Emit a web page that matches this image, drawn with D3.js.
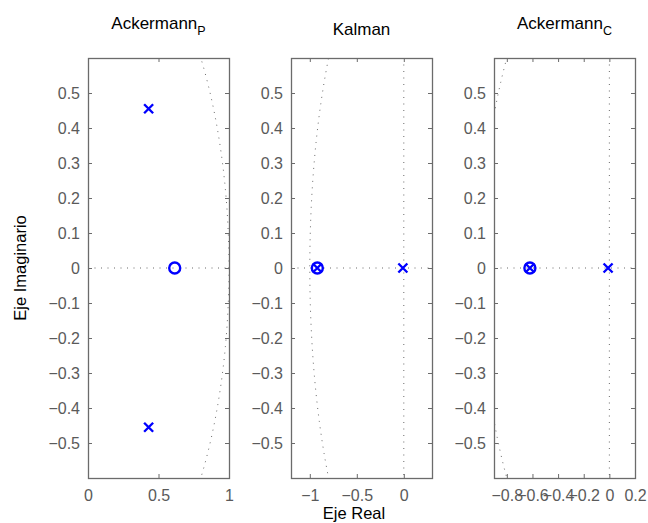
<!DOCTYPE html>
<html>
<head>
<meta charset="utf-8">
<script src="https://cdn.jsdelivr.net/npm/d3@7"></script>
<style>
  html, body { margin: 0; padding: 0; background: #fff; }
  svg { display: block; font-family: "Liberation Sans", Arial, Helvetica, sans-serif; }
</style>
</head>
<body>
<svg id="chart" width="648" height="523"></svg>
<script>
// Pole-zero maps of three discrete-time designs
const panelTitles = ["Ackermann", "Kalman", "Ackermann"];
const panelSubscripts = ["P", "", "C"];
const xDomains = [[0, 1], [-1.2, 0.3], [-0.9, 0.2]];
const xTickValues = [[0, 0.5, 1], [-1, -0.5, 0], [-0.8, -0.6, -0.4, -0.2, 0, 0.2]];
const yDomain = [-0.6, 0.6];
const yTickValues = [-0.5, -0.4, -0.3, -0.2, -0.1, 0, 0.1, 0.2, 0.3, 0.4, 0.5];

// poles (x) and zeros (o), as [real, imag]
const polesAckP = [[0.43, 0.455], [0.43, -0.455]];
const zerosAckP = [[0.615, 0]];
const polesKalman = [[-0.92, 0], [-0.01, 0]];
const zerosKalman = [[-0.92, 0]];
const polesAckC = [[-0.62, 0], [-0.01, 0]];
const zerosAckC = [[-0.62, 0]];

const poles = [polesAckP, polesKalman, polesAckC];
const zeros = [zerosAckP, zerosKalman, zerosAckC];

const panelLeft = [88, 291, 494];
const panelWidth = 141;
const plotTop = 58, plotBottom = 478;
const blue = "#0000ff";
const boxColor = "#6b6b6b";
const labelColor = "#5a5a5a";

const svg = d3.select("#chart");
const fmt = v => {
  if (v === 0) return "0";
  const s = String(Math.abs(+v.toFixed(2)));
  return (v < 0 ? "\u2212" : "") + s;
};

panelTitles.forEach((title, i) => {
  const x = d3.scaleLinear().domain(xDomains[i]).range([panelLeft[i], panelLeft[i] + panelWidth]);
  const y = d3.scaleLinear().domain(yDomain).range([plotBottom, plotTop]);
  const g = svg.append("g");

  const clipId = "clip" + i;
  g.append("clipPath").attr("id", clipId)
    .append("rect").attr("x", x.range()[0]).attr("y", plotTop)
    .attr("width", panelWidth).attr("height", plotBottom - plotTop);

  const grid = g.append("g").attr("clip-path", `url(#${clipId})`)
    .attr("fill", "none").attr("stroke", "#444").attr("stroke-width", 0.8)
    .attr("stroke-dasharray", "1 5.5");

  // real and imaginary axes
  grid.append("line").attr("x1", x.range()[0]).attr("x2", x.range()[1])
    .attr("y1", y(0)).attr("y2", y(0));
  grid.append("line").attr("x1", x(0)).attr("x2", x(0))
    .attr("y1", plotTop).attr("y2", plotBottom);

  // unit circle
  const circ = d3.range(0, 361, 1).map(a => [Math.cos(a * Math.PI / 180), Math.sin(a * Math.PI / 180)]);
  grid.append("path")
    .attr("d", d3.line().x(d => x(d[0])).y(d => y(d[1]))(circ));

  // axes with inward ticks on all four sides
  const tick = 4;
  const axB = d3.axisBottom(x).tickValues(xTickValues[i]).tickSize(-tick).tickPadding(12).tickFormat(fmt);
  const axT = d3.axisTop(x).tickValues(xTickValues[i]).tickSize(-tick).tickFormat("");
  const axL = d3.axisLeft(y).tickValues(yTickValues).tickSize(-tick).tickPadding(8).tickFormat(fmt);
  const axR = d3.axisRight(y).tickValues(yTickValues).tickSize(-tick).tickFormat("");

  const styleAxis = sel => {
    sel.select(".domain").remove();
    sel.selectAll(".tick line").attr("stroke", boxColor);
    sel.selectAll(".tick text").attr("fill", labelColor).style("font-size", "16px");
  };
  g.append("g").attr("transform", `translate(0,${plotBottom})`).call(axB).call(styleAxis);
  g.append("g").attr("transform", `translate(0,${plotTop})`).call(axT).call(styleAxis);
  g.append("g").attr("transform", `translate(${x.range()[0]},0)`).call(axL).call(styleAxis);
  g.append("g").attr("transform", `translate(${x.range()[1]},0)`).call(axR).call(styleAxis);

  g.append("rect").attr("x", x.range()[0] + 0.5).attr("y", plotTop + 0.5)
    .attr("width", panelWidth).attr("height", plotBottom - plotTop)
    .attr("fill", "none").attr("stroke", boxColor).attr("stroke-width", 1.3);

  // zeros
  g.selectAll(".zero").data(zeros[i]).join("circle")
    .attr("cx", d => x(d[0])).attr("cy", d => y(d[1])).attr("r", 5.5)
    .attr("fill", "none").attr("stroke", blue).attr("stroke-width", 2.4);

  // poles
  const pole = g.selectAll(".pole").data(poles[i]).join("g")
    .attr("transform", d => `translate(${x(d[0])},${y(d[1])})`);
  const s = 4.5;
  pole.append("path").attr("d", `M${-s},${-s}L${s},${s}M${-s},${s}L${s},${-s}`)
    .attr("stroke", blue).attr("stroke-width", 2.4).attr("fill", "none");

  // title
  const cx = x.range()[0] + panelWidth / 2;
  const t = svg.append("text").attr("x", cx).attr("y", panelSubscripts[i] ? 29 : 35)
    .attr("text-anchor", "middle").style("font-size", "17px").attr("fill", "#000");
  t.append("tspan").text(title);
  if (panelSubscripts[i]) {
    t.append("tspan").attr("dy", 6).style("font-size", "12.5px").text(panelSubscripts[i]);
  }
});

svg.append("text").attr("x", 354).attr("y", 519).attr("text-anchor", "middle")
  .style("font-size", "16.5px").text("Eje Real");
svg.append("text").attr("transform", "translate(26,268) rotate(-90)")
  .attr("text-anchor", "middle").style("font-size", "16.5px").text("Eje Imaginario");
</script>
</body>
</html>
